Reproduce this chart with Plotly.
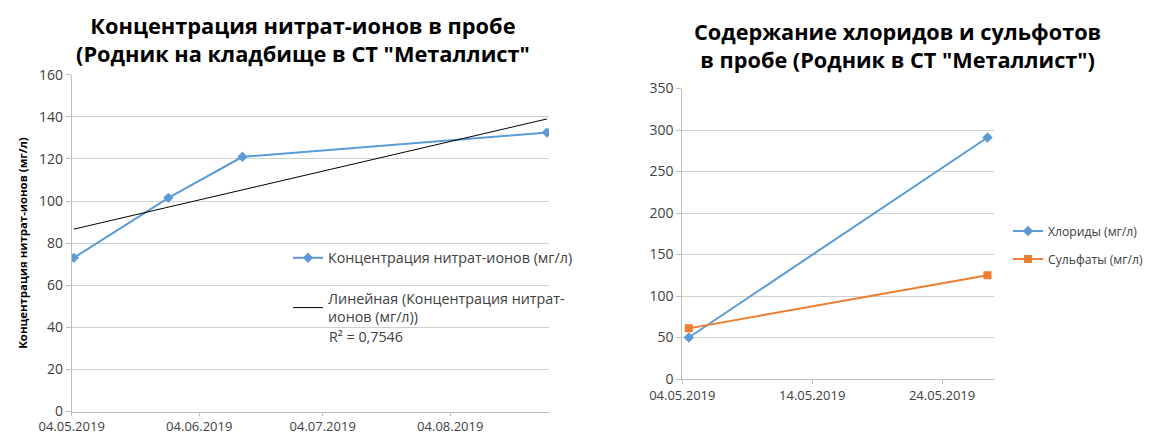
import numpy as np
import pandas as pd
import plotly.graph_objects as go

# ---------------- data ----------------
nitrate_dates = ["2019-05-04", "2019-05-27", "2019-06-14", "2019-08-27"]
nitrate_values = [73, 101.5, 121, 132.5]
nitrate_name = "Концентрация нитрат-ионов (мг/л)"
trend_name = "Линейная (Концентрация нитрат-<br>ионов (мг/л))"
r2_label = "R² = 0,7546"

salt_dates = ["2019-05-04", "2019-05-27"]
chloride_values = [50, 291]
sulfate_values = [61, 125]
chloride_name = "Хлориды (мг/л)"
sulfate_name = "Сульфаты (мг/л)"

left_title = "Концентрация нитрат-ионов в пробе<br>(Родник на кладбище в СТ \"Металлист\""
right_title = "Содержание хлоридов и сульфотов<br>в пробе (Родник в СТ \"Металлист\")"
left_ytitle = "Концентрация нитрат-ионов (мг/л)"

# ---------------- helpers ----------------
PAGE_W, PAGE_H = 1151, 434
OFF = 8  # default page body margin
W, H = PAGE_W - OFF, PAGE_H - OFF
FONT = "Open Sans"
TXT = "#404040"
GRID = "#D0D0D0"
AXIS = "#BFBFBF"
BLUE = "#5B9BD5"
ORANGE = "#ED7D31"
half_day = pd.Timedelta(hours=12)


def px(x):
    return (x - OFF) / W


def py(y):
    return 1 - (y - OFF) / H


n_x = pd.to_datetime(nitrate_dates)
s_x = pd.to_datetime(salt_dates)

# linear trend (as Excel's linear trendline)
days = np.array([(d - n_x[0]).days for d in n_x], dtype=float)
slope, intercept = np.polyfit(days, np.array(nitrate_values, dtype=float), 1)
trend_x = [n_x[0], n_x[-1]]
trend_y = [intercept, intercept + slope * days[-1]]

fig = go.Figure()

fig.add_trace(go.Scatter(
    x=n_x + half_day, y=nitrate_values, name=nitrate_name, mode="lines+markers",
    line=dict(color=BLUE, width=2), marker=dict(symbol="diamond", size=8, color=BLUE),
    xaxis="x", yaxis="y", legend="legend", showlegend=True))
fig.add_trace(go.Scatter(
    x=[t + half_day for t in trend_x], y=trend_y, name=trend_name, mode="lines",
    line=dict(color="#000000", width=1), xaxis="x", yaxis="y", legend="legend2", showlegend=True))

fig.add_trace(go.Scatter(
    x=s_x + half_day, y=chloride_values, name=chloride_name, mode="lines+markers",
    line=dict(color=BLUE, width=2), marker=dict(symbol="diamond", size=8, color=BLUE),
    xaxis="x2", yaxis="y2", legend="legend3", showlegend=True))
fig.add_trace(go.Scatter(
    x=s_x + half_day, y=sulfate_values, name=sulfate_name, mode="lines+markers",
    line=dict(color=ORANGE, width=2), marker=dict(symbol="square", size=8, color=ORANGE),
    xaxis="x2", yaxis="y2", legend="legend4", showlegend=True))

axis_common = dict(
    showline=True, linecolor=AXIS, linewidth=1,
    ticks="outside", tickcolor=AXIS,
    zeroline=False, automargin=False,
)
ytickfont = dict(family=FONT, size=14, color=TXT)
xtickfont = dict(family=FONT, size=13, color=TXT)

legend_common = dict(
    bgcolor="rgba(0,0,0,0)",
    xanchor="left", yanchor="middle", itemclick=False, itemdoubleclick=False,
)
left_legend_font = dict(family=FONT, size=14.3, color=TXT)
right_legend_font = dict(family=FONT, size=12.2, color=TXT)

fig.update_layout(
    width=W, height=H,
    margin=dict(l=0, r=0, t=0, b=0, autoexpand=False),
    showlegend=True,
    paper_bgcolor="white", plot_bgcolor="white",
    font=dict(family=FONT, color=TXT),
    xaxis=dict(
        domain=[px(71.7), px(549)],
        type="date", range=["2019-05-04", "2019-08-28"],
        tick0="2019-05-04", dtick="M1", tickformat="%d.%m.%Y", ticklen=3,
        tickfont=xtickfont, showgrid=False, anchor="y", **axis_common),
    yaxis=dict(
        domain=[py(411.5), py(74.7)], range=[0, 160], dtick=20, ticklen=5,
        tickfont=ytickfont, showgrid=True, gridcolor=GRID, anchor="x",
        title=dict(text=left_ytitle, font=dict(family=FONT, size=11.4, color="#000000", weight="bold"),
                   standoff=8),
        **axis_common),
    xaxis2=dict(
        domain=[px(682.3), px(994)],
        type="date", range=["2019-05-04", "2019-05-28"],
        tick0="2019-05-04", dtick=10 * 86400000, tickformat="%d.%m.%Y", ticklen=4,
        tickfont=xtickfont, showgrid=False, anchor="y2", **axis_common),
    yaxis2=dict(
        domain=[py(379), py(88.5)], range=[0, 350], dtick=50, ticklen=5,
        tickfont=ytickfont, showgrid=True, gridcolor=GRID, anchor="x2", **axis_common),
    legend=dict(x=px(288), y=py(258), font=left_legend_font, **legend_common),
    legend2=dict(x=px(288), y=py(308), font=left_legend_font, **legend_common),
    legend3=dict(x=px(1008), y=py(231), font=right_legend_font, **legend_common),
    legend4=dict(x=px(1008), y=py(259), font=right_legend_font, **legend_common),
    annotations=[
        dict(text=left_title, x=px(303), y=py(40), xref="paper", yref="paper",
             xanchor="center", yanchor="middle", showarrow=False, align="center",
             font=dict(family=FONT, size=21.8, color="#000000", weight="bold")),
        dict(text=right_title, x=px(897), y=py(45), xref="paper", yref="paper",
             xanchor="center", yanchor="middle", showarrow=False, align="center",
             font=dict(family=FONT, size=21.7, color="#000000", weight="bold")),
        dict(text=r2_label, x=px(327), y=py(336), xref="paper", yref="paper",
             xanchor="left", yanchor="middle", showarrow=False,
             font=dict(family=FONT, size=14.3, color=TXT)),
    ],
)

fig.write_html("out.html")
